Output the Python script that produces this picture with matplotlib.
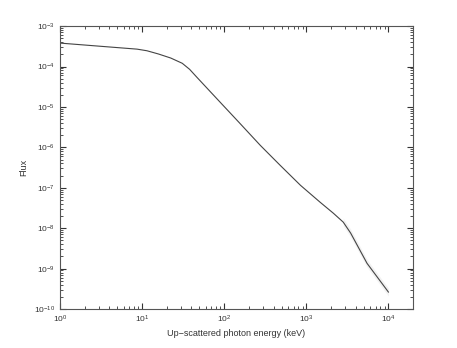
import matplotlib
matplotlib.use('Agg')
import matplotlib.pyplot as plt
import numpy as np

# (log10 values)
log_energy = [0.0, 0.5, 0.94, 1.06, 1.2, 1.35, 1.49, 1.58, 1.67, 1.95, 2.18, 2.44, 2.68, 2.93, 3.17, 3.33, 3.45, 3.54, 3.74, 4.0]
log_flux = [-3.42, -3.50, -3.57, -3.61, -3.69, -3.79, -3.92, -4.07, -4.27, -4.88, -5.38, -5.95, -6.44, -6.94, -7.36, -7.63, -7.85, -8.12, -8.87, -9.58]
x_ticks = [1, 10, 100, 1e3, 1e4]
y_ticks = [1e-10, 1e-9, 1e-8, 1e-7, 1e-6, 1e-5, 1e-4, 1e-3]

energy = 10 ** np.array(log_energy)
flux = 10 ** np.array(log_flux)

plt.rcParams['font.family'] = ['Liberation Sans', 'DejaVu Sans']

fig = plt.figure(figsize=(4.57, 3.48), dpi=100)
ax = fig.add_axes([0.131, 0.112, 0.773, 0.813])

# faint band along the tail
tail = energy > 2500
ax.fill_between(energy[tail], flux[tail] * 0.8, flux[tail] * 1.25, color='#f2f2f2', lw=0)
ax.plot(energy, flux, color='#444444', lw=0.8)

ax.set_xscale('log')
ax.set_yscale('log')
ax.set_xlim(1, 2e4)
ax.set_ylim(1e-10, 1e-3)
ax.set_xticks(x_ticks)
ax.set_yticks(y_ticks)

ax.tick_params(which='both', direction='in', top=True, right=True, labelsize=6, colors='#333333')
ax.tick_params(which='major', length=4)
ax.tick_params(which='minor', length=2)
for s in ax.spines.values():
    s.set_color('#555555')
    s.set_linewidth(0.8)

ax.set_xlabel('Up\u2212scattered photon energy (keV)', fontsize=6.5, color='#333333', labelpad=3)
ax.set_ylabel('Flux', fontsize=6.5, color='#333333', labelpad=4)

fig.savefig('out.png', dpi=100)
